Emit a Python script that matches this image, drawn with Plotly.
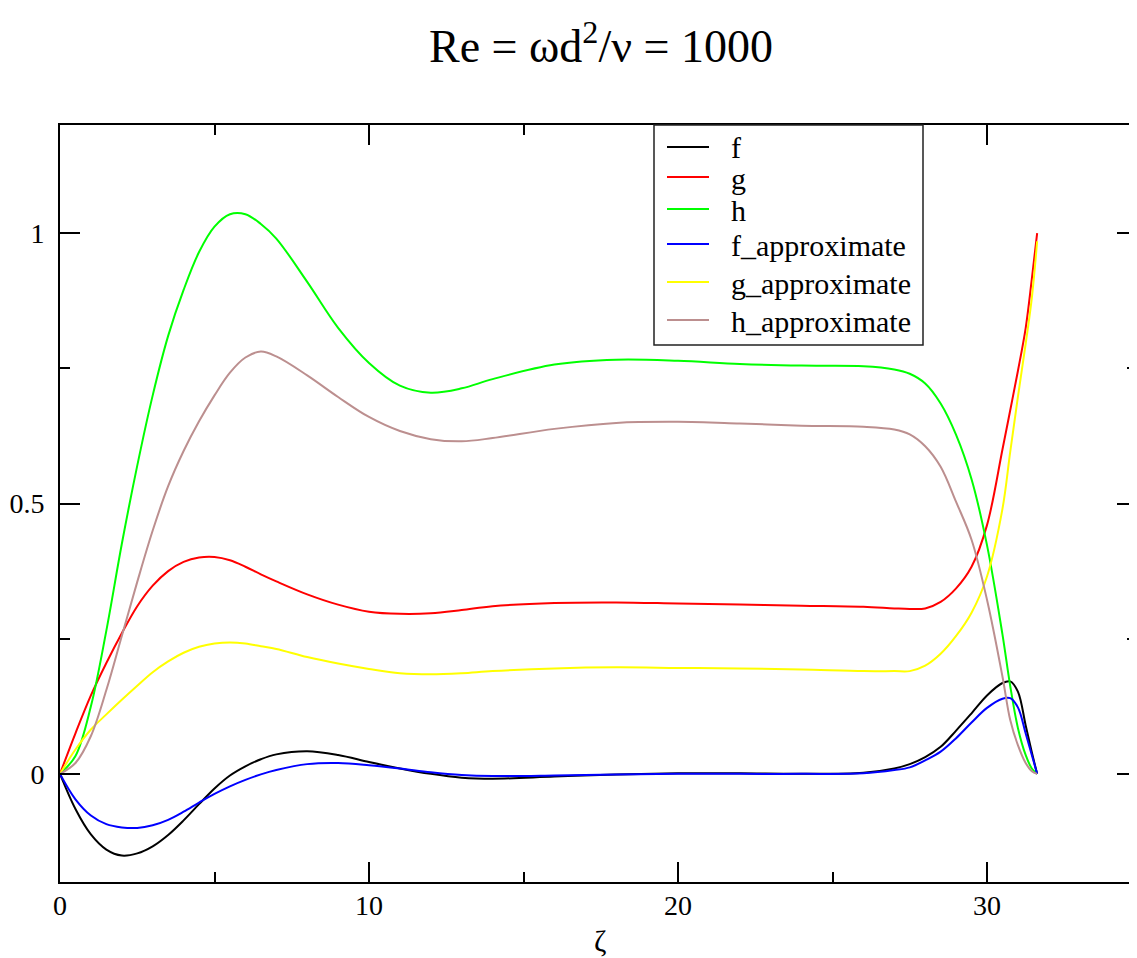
import plotly.graph_objects as go

zeta = [0, 0.5, 1, 1.5, 2, 2.5, 3, 3.5, 4, 4.5, 5, 5.5, 6, 6.5, 7, 8, 9, 10, 11, 12, 13, 14,
        16, 18, 20, 22, 24, 26, 27, 27.5, 28, 28.5, 29, 29.5, 30, 30.5, 30.75, 31, 31.25, 31.45, 31.623]

f = [0, -0.065, -0.112, -0.14, -0.151, -0.147, -0.134, -0.113, -0.086, -0.056, -0.027, -0.003, 0.014,
     0.027, 0.036, 0.042, 0.035, 0.022, 0.01, 0.0, -0.007, -0.009, -0.005, -0.001, 0.001, 0.001,
     0.0, 0.002, 0.01, 0.018, 0.031, 0.05, 0.08, 0.112, 0.145, 0.168, 0.171, 0.152, 0.09, 0.04, 0]

g = [0, 0.075, 0.145, 0.205, 0.26, 0.31, 0.348, 0.375, 0.392, 0.4, 0.401, 0.395, 0.383, 0.369,
     0.356, 0.332, 0.313, 0.3, 0.296, 0.297, 0.303, 0.31, 0.316, 0.317, 0.315, 0.313, 0.311, 0.309,
     0.306, 0.305, 0.306, 0.318, 0.343, 0.383, 0.46, 0.6, 0.672, 0.745, 0.824, 0.915, 1.0]

h = [0, 0.033, 0.125, 0.265, 0.425, 0.57, 0.70, 0.81, 0.895, 0.965, 1.012, 1.035, 1.035, 1.017,
     0.99, 0.91, 0.825, 0.76, 0.718, 0.705, 0.713, 0.73, 0.757, 0.766, 0.764, 0.758, 0.755, 0.754,
     0.748, 0.74, 0.722, 0.685, 0.627, 0.545, 0.423, 0.258, 0.163, 0.085, 0.035, 0.01, 0]

f_approx = [0, -0.047, -0.077, -0.093, -0.099, -0.1, -0.095, -0.085, -0.07, -0.053, -0.037, -0.023,
            -0.011, -0.001, 0.007, 0.018, 0.02, 0.016, 0.01, 0.003, -0.002, -0.004, -0.003, -0.001,
            0.0, 0.0, 0.0, 0.001, 0.007, 0.012, 0.025, 0.041, 0.066, 0.095, 0.122, 0.139, 0.14,
            0.123, 0.075, 0.035, 0]

g_approx = [0, 0.045, 0.082, 0.11, 0.137, 0.163, 0.188, 0.208, 0.224, 0.235, 0.241, 0.243, 0.241,
            0.236, 0.231, 0.216, 0.204, 0.194, 0.186, 0.184, 0.186, 0.19, 0.195, 0.197, 0.196, 0.195,
            0.193, 0.19, 0.19, 0.19, 0.2, 0.222, 0.255, 0.298, 0.365, 0.49, 0.595, 0.697, 0.795,
            0.88, 0.985]

h_approx = [0, 0.02, 0.07, 0.155, 0.255, 0.355, 0.45, 0.532, 0.597, 0.652, 0.70, 0.742, 0.77, 0.781,
            0.772, 0.737, 0.697, 0.66, 0.634, 0.619, 0.615, 0.621, 0.638, 0.649, 0.651, 0.648, 0.644,
            0.642, 0.637, 0.628, 0.606, 0.568, 0.503, 0.433, 0.322, 0.18, 0.1, 0.053, 0.02, 0.005, 0]

series_names = ["f", "g", "h", "f_approximate", "g_approximate", "h_approximate"]
series_values = [f, g, h, f_approx, g_approx, h_approx]
series_colors = ["#000000", "#ff0000", "#00ff00", "#0000ff", "#ffff00", "#bc8f8f"]

x_ticks = [0, 10, 20, 30]
y_ticks = [0, 0.5, 1]
y_tick_labels = ["0", "0.5", "1"]

FONT = "Liberation Serif, Times New Roman, serif"
OFF = 8                      # default page body margin
W, H = 1137 - OFF, 958 - OFF
# plot area in page pixels: left 60, top 125, bottom 882, right edge of page
ML, MT, MB = 60 - OFF, 125 - OFF, 958 - 882
PW = W - ML
PH = H - MT - MB
px_per_unit = 30.9
x_max = PW / px_per_unit


def px(xabs):   # page x pixel -> paper x
    return (xabs - 60) / PW


def py(yabs):   # page y pixel -> paper y
    return (882 - yabs) / PH


fig = go.Figure()
for name, vals, col in zip(series_names, series_values, series_colors):
    fig.add_trace(go.Scatter(x=zeta, y=vals, mode="lines", name=name, showlegend=False,
                             line=dict(color=col, width=2, shape="spline", smoothing=1.0)))

# invisible trace to activate right-side tick axis
fig.add_trace(go.Scatter(x=[0], y=[0], yaxis="y2", mode="lines", showlegend=False,
                         hoverinfo="skip", line=dict(color="rgba(0,0,0,0)")))

# legend box (drawn manually to match the reference spacing)
shapes = [dict(type="rect", xref="paper", yref="paper", x0=px(654), x1=px(923), y0=py(345), y1=py(125),
               line=dict(color="#222222", width=1.5), fillcolor="white", layer="above")]
annotations = []
row_y = [147, 177, 209, 244, 282, 320]
for name, col, yy in zip(series_names, series_colors, row_y):
    shapes.append(dict(type="line", xref="paper", yref="paper", x0=px(667), x1=px(709),
                       y0=py(yy), y1=py(yy), line=dict(color=col, width=2), layer="above"))
    annotations.append(dict(text=name, xref="paper", yref="paper", x=px(729), y=py(yy + 1),
                            xanchor="left", yanchor="middle", showarrow=False,
                            font=dict(family=FONT, size=30, color="black")))

# x-axis title placed as annotation for exact position
annotations.append(dict(text="ζ", xref="paper", yref="paper", x=px(600), y=py(940),
                        xanchor="center", yanchor="middle", showarrow=False,
                        font=dict(family=FONT, size=30, color="black")))

fig.update_layout(
    width=W, height=H,
    margin=dict(l=ML, r=0, t=MT, b=MB),
    paper_bgcolor="white", plot_bgcolor="white",
    font=dict(family=FONT, color="black", size=28),
    title=dict(text="Re = ωd<sup>2</sup>/ν = 1000", x=(601 - OFF) / W, xref="container", xanchor="center",
               y=1 - (46 - OFF) / H, yref="container", yanchor="middle",
               font=dict(family=FONT, size=46, color="black")),
    showlegend=False,
    shapes=shapes,
    annotations=annotations,
    xaxis=dict(range=[0, x_max], showgrid=False, zeroline=False,
               showline=True, linecolor="black", linewidth=2, mirror="ticks",
               ticks="inside", ticklen=20, tickwidth=1.5, tickcolor="black",
               tickvals=x_ticks, ticktext=[str(v) for v in x_ticks],
               minor=dict(dtick=5, tick0=0, ticks="inside", ticklen=10, tickwidth=1.5, tickcolor="black"),
               tickfont=dict(family=FONT, size=28), ticklabelstandoff=-3),
    yaxis=dict(range=[-0.2, 1.2], showgrid=False, zeroline=False,
               showline=True, linecolor="black", linewidth=2,
               ticks="inside", ticklen=20, tickwidth=1.5, tickcolor="black",
               tickvals=y_ticks, ticktext=y_tick_labels,
               minor=dict(dtick=0.25, tick0=0, ticks="inside", ticklen=10, tickwidth=1.5, tickcolor="black"),
               tickfont=dict(family=FONT, size=28), ticklabelstandoff=8),
    yaxis2=dict(range=[-0.2, 1.2], overlaying="y", side="right", showgrid=False, zeroline=False,
                showline=False, showticklabels=False,
                ticks="inside", ticklen=20, tickwidth=1.5, tickcolor="black",
                tickvals=y_ticks,
                minor=dict(dtick=0.25, tick0=0, ticks="inside", ticklen=10, tickwidth=1.5, tickcolor="black")),
)

fig.write_html("out.html")
